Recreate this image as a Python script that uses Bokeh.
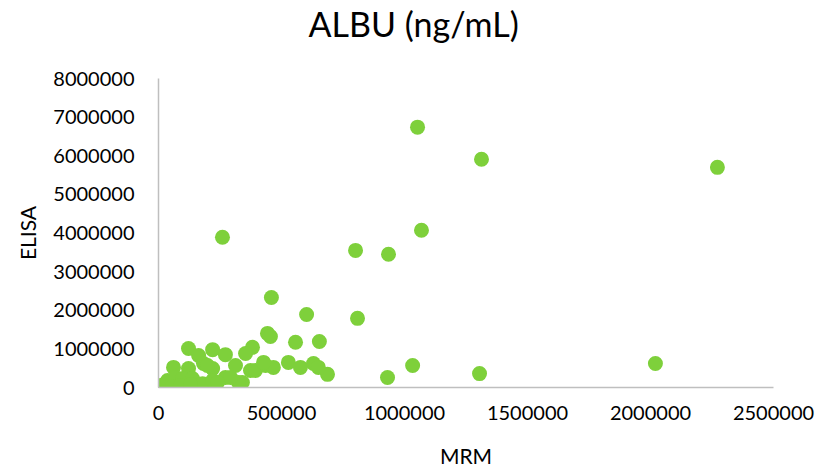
from bokeh.plotting import figure
from bokeh.models import Range1d, FixedTicker, ColumnDataSource, Title
from bokeh.embed import file_html
from bokeh.resources import INLINE

# Data (MRM vs ELISA, ng/mL)
mrm = [1053000, 1313000, 2272000, 260000, 1069000, 801000, 935000, 459000,
       602000, 809000, 443000, 455000, 557000, 654000, 122000, 220000,
       163000, 272000, 382000, 354000, 931000, 1033000, 1305000, 2020000,
       687000, 435000, 467000, 528000, 577000, 630000, 650000, 374000,
       341000, 61000, 122000, 183000, 220000, 313000, 394000, 8000,
       37000, 69000, 98000, 138000, 179000, 220000, 272000, 325000,
       0, 28000, 57000, 89000, 130000, 427000, 293000, 240000, 199000]
elisa = [6740000, 5910000, 5700000, 3890000, 4070000, 3550000, 3450000, 2330000,
         1890000, 1790000, 1400000, 1320000, 1170000, 1190000, 1010000, 980000,
         830000, 850000, 1040000, 880000, 260000, 570000, 360000, 620000,
         340000, 570000, 520000, 650000, 520000, 620000, 520000, 440000,
         130000, 520000, 490000, 620000, 490000, 570000, 440000, 50000,
         180000, 260000, 230000, 230000, 100000, 180000, 260000, 130000,
         0, 0, 20000, 50000, 80000, 650000, 260000, 130000, 570000]

x_ticks = [0, 500000, 1000000, 1500000, 2000000, 2500000]
y_ticks = [0, 1000000, 2000000, 3000000, 4000000, 5000000, 6000000, 7000000, 8000000]

title_text = "ALBU (ng/mL)"
x_label = "MRM"
y_label = "ELISA"

FONT = "Lato"

p = figure(width=826, height=473, output_backend="svg", toolbar_location=None,
           x_range=Range1d(0, 2500000), y_range=Range1d(0, 8000000),
           min_border_left=158, min_border_right=53, min_border_top=78, min_border_bottom=86)
p.title.visible = False
p.outline_line_color = None
p.xgrid.visible = False
p.ygrid.visible = False
p.background_fill_color = "white"
p.border_fill_color = "white"

src = ColumnDataSource(dict(x=mrm, y=elisa))
p.scatter("x", "y", source=src, size=15, fill_color="#7ED03B", line_color="#7ED03B", line_width=0)

for ax, ticks in ((p.xaxis[0], x_ticks), (p.yaxis[0], y_ticks)):
    ax.ticker = FixedTicker(ticks=ticks)
    ax.major_tick_line_color = None
    ax.minor_tick_line_color = None
    ax.axis_line_color = "#BFBFBF"
    ax.axis_line_width = 1.5
    ax.major_label_text_font = FONT
    ax.major_label_text_font_size = "20px"
    ax.major_label_text_color = "#000000"
    ax.axis_label_text_font = FONT
    ax.axis_label_text_font_size = "21px"
    ax.axis_label_text_font_style = "normal"
    ax.axis_label_text_color = "#000000"

p.xaxis[0].formatter.use_scientific = False
p.yaxis[0].formatter.use_scientific = False
p.xaxis[0].major_label_standoff = 12
p.yaxis[0].major_label_standoff = 18
p.xaxis[0].axis_label = x_label
p.yaxis[0].axis_label = y_label
p.xaxis[0].axis_label_standoff = 20
p.yaxis[0].axis_label_standoff = 10

# spacer between the frame and the title (first "above" item sits next to the frame)
spacer = Title(text=" ", text_font_size="2px", standoff=31)
p.add_layout(spacer, "above")
title = Title(text=title_text, text_font=FONT, text_font_size="34px",
              text_font_style="normal", text_color="#000000",
              align="left", offset=150, standoff=0)
p.add_layout(title, "above")

open("out.html", "w").write(file_html(p, INLINE))
